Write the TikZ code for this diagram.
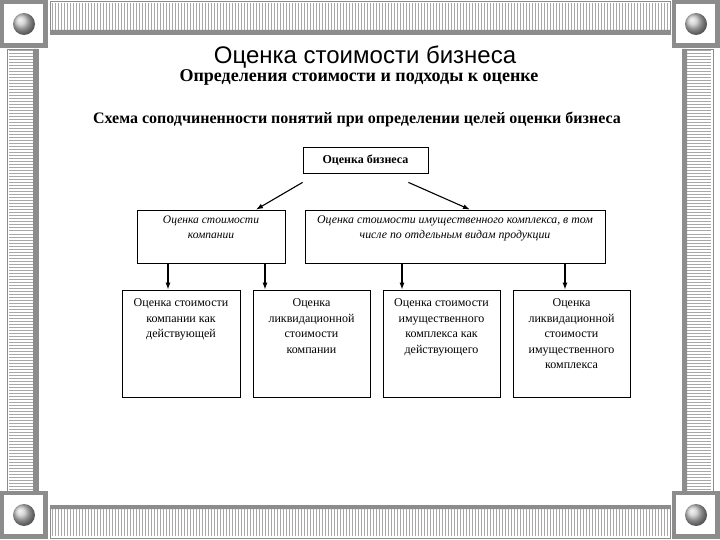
\documentclass[tikz,border=0pt]{standalone}
\usepackage{fontspec}
\setmainfont{Liberation Serif}
\setsansfont{Liberation Sans}
\usetikzlibrary{arrows.meta}
\definecolor{frame}{HTML}{8C8C8C}
\definecolor{stripe}{HTML}{A8A8A8}
\definecolor{ink}{HTML}{000000}
% a box of fixed size, text set from its top
\newcommand{\cellbox}[4]{\parbox[c][#2pt][t]{#1pt}{\centering\vspace*{#3pt}#4}}

\begin{document}
\begin{tikzpicture}[x=1pt, y=-1pt, ink,
    cell/.style={draw, line width=0.8pt, inner sep=0pt, fill=white},
    arr/.style={-{Latex[length=7pt, width=5pt]}, line width=1.1pt},
    bar/.style={stripe, line width=1pt},
  ]
\useasboundingbox (0,0) rectangle (720,540);

% --- The frame of the slide -------------------------------------------------------------
\fill[white] (50,1) rectangle (670,34) (50,505) rectangle (670,538);
\foreach \x in {52,55,...,668} {
  \draw[bar] (\x,3) -- (\x,30);
  \draw[bar] (\x,509) -- (\x,536);
}
\fill[frame] (50,30) rectangle (670,34) (50,505) rectangle (670,509);
\draw[frame] (50,1) rectangle (670,34) (50,505) rectangle (670,538);
\foreach \y in {51,54,...,489} {
  \draw[bar] (9,\y) -- (33,\y);
  \draw[bar] (687,\y) -- (711,\y);
}
\fill[frame] (33,49) rectangle (38,491) (682,49) rectangle (687,491);
\draw[frame] (7,49) rectangle (38,491) (682,49) rectangle (713,491);
% corners, each with its ball
\foreach \cx/\cy in {24/24, 696/24, 24/515, 696/515} {
  \fill[frame] (\cx-24,\cy-24) rectangle (\cx+24,\cy+24);
  \fill[white] (\cx-20,\cy-20) rectangle (\cx+19,\cy+19);
  \shade[ball color=white!55!gray] (\cx,\cy) circle[radius=11pt];
}

% --- Titles ---------------------------------------------------------------------------------
\node[font=\sffamily\fontsize{24}{28}\selectfont] (title) at (365,57) {Оценка стоимости бизнеса};
\node[font=\bfseries\fontsize{18}{21}\selectfont] (sub) at (359,77) {Определения стоимости и подходы к оценке};
\node[font=\bfseries\fontsize{16}{19}\selectfont] (scheme) at (357,119) {Схема соподчиненности понятий при определении целей оценки бизнеса};

% --- The scheme -------------------------------------------------------------------------------
\node[cell] (biz) at (365.5,160) {\cellbox{125}{26}{8}{\bfseries\fontsize{12}{14}\selectfont Оценка бизнеса}};

\node[cell] (comp) at (211,236.5) {\cellbox{148}{53}{6}{\itshape\fontsize{11.5}{15}\selectfont
  Оценка стоимости\\ компании}};
\node[cell] (prop) at (455,236.5) {\cellbox{300}{53}{6}{\itshape\fontsize{11.8}{15}\selectfont
  Оценка стоимости имущественного комплекса, в том\\ числе по отдельным видам продукции}};

\node[cell] (going) at (181,343.5) {\cellbox{118}{107}{9}{\fontsize{12}{15.5}\selectfont
  Оценка стоимости\\ компании как\\ действующей}};
\node[cell] (liq) at (311.5,343.5) {\cellbox{117}{107}{9}{\fontsize{12}{15.5}\selectfont
  Оценка\\ ликвидационной\\ стоимости\\ компании}};
\node[cell] (pgoing) at (441.5,343.5) {\cellbox{117}{107}{9}{\fontsize{12}{15.5}\selectfont
  Оценка стоимости\\ имущественного\\ комплекса как\\ действующего}};
\node[cell] (pliq) at (571.5,343.5) {\cellbox{117}{107}{9}{\fontsize{12}{15.5}\selectfont
  Оценка\\ ликвидационной\\ стоимости\\ имущественного\\ комплекса}};

% --- Arrows -------------------------------------------------------------------------------------
\draw[arr] ([yshift=-9pt]biz.south west) -- ([xshift=45pt]comp.north);
\draw[arr] ([xshift=-20pt, yshift=-9pt]biz.south east) -- ([xshift=15pt]prop.north);
\draw[arr] ([xshift=-13pt]going.north |- comp.south) -- ([xshift=-13pt]going.north);
\draw[arr] ([xshift=-46.5pt]liq.north |- comp.south) -- ([xshift=-46.5pt]liq.north);
\draw[arr] ([xshift=-39.5pt]pgoing.north |- prop.south) -- ([xshift=-39.5pt]pgoing.north);
\draw[arr] ([xshift=-6.5pt]pliq.north |- prop.south) -- ([xshift=-6.5pt]pliq.north);
\end{tikzpicture}
\end{document}
